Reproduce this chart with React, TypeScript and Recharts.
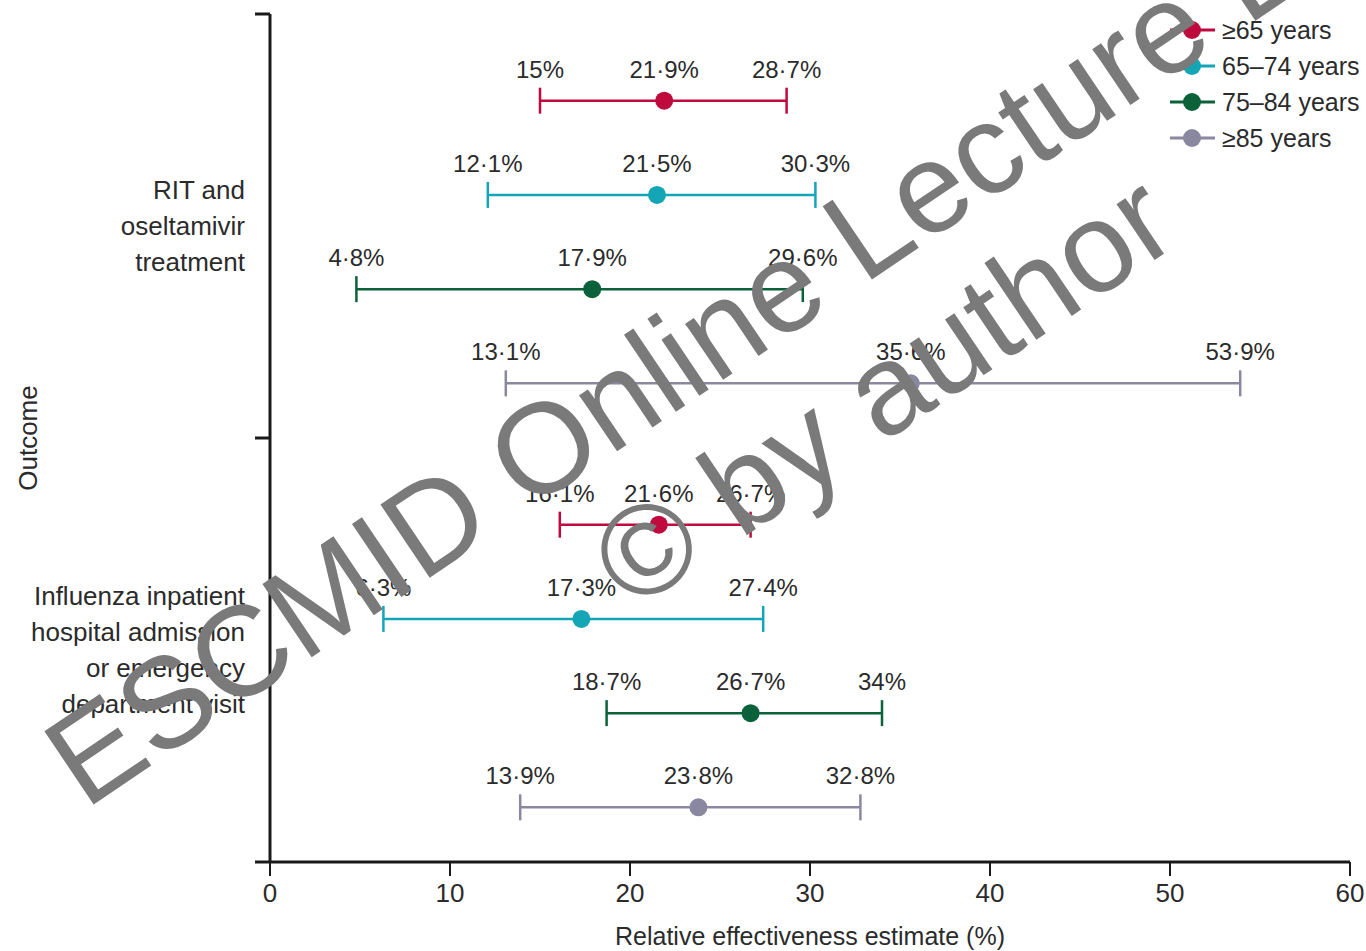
import React from "react";
import { ComposedChart, Scatter, XAxis, YAxis, ErrorBar } from "recharts";

const FONT = '"Liberation Sans", Arial, sans-serif';
const TEXT = "#2b2b2b";
const AXIS = "#1a1a1a";

const AGE_BANDS = ["≥65 years", "65–74 years", "75–84 years", "≥85 years"];
const COLORS = ["#bf0a3e", "#14a6b6", "#0b6139", "#8a88a0"];

// outcome labels, already broken into the lines used in the figure
const OUTCOME_LINES = [
  ["RIT and", "oseltamivir", "treatment"],
  ["Influenza inpatient", "hospital admission", "or emergency", "department visit"],
];

// one value per age band
const RIT_EST = [21.9, 21.5, 17.9, 35.6];
const RIT_LOW = [15, 12.1, 4.8, 13.1];
const RIT_HIGH = [28.7, 30.3, 29.6, 53.9];

const HOSP_EST = [21.6, 17.3, 26.7, 23.8];
const HOSP_LOW = [16.1, 6.3, 18.7, 13.9];
const HOSP_HIGH = [26.7, 27.4, 34, 32.8];

const X_TICKS = [0, 10, 20, 30, 40, 50, 60];

const EST = [RIT_EST, HOSP_EST];
const LOW = [RIT_LOW, HOSP_LOW];
const HIGH = [RIT_HIGH, HOSP_HIGH];

// each outcome gets a band of 4.5 units on the y axis
const BAND = 4.5;
const rowY = (g: number, b: number) => g * BAND + 0.92 + b;

const fmt = (v: number) => `${String(v).replace(".", "·")}%`;

const estimateSeries = AGE_BANDS.map((_, b) =>
  [0, 1].map((g) => ({
    x: EST[g][b],
    y: rowY(g, b),
    err: [EST[g][b] - LOW[g][b], HIGH[g][b] - EST[g][b]],
  }))
);

const boundSeries = AGE_BANDS.map((_, b) =>
  [0, 1].flatMap((g) => [
    { x: LOW[g][b], y: rowY(g, b) },
    { x: HIGH[g][b], y: rowY(g, b) },
  ])
);

const valueLabel = (cx: number, cy: number, v: number) => (
  <text
    x={cx}
    y={cy - 23}
    textAnchor="middle"
    fontSize={24}
    fill={TEXT}
    fontFamily={FONT}
  >
    {fmt(v)}
  </text>
);

const estimateShape = (color: string) => (p: any) =>
  (
    <g>
      <circle cx={p.cx} cy={p.cy} r={9} fill={color} />
      {valueLabel(p.cx, p.cy, p.payload.x)}
    </g>
  );

const boundShape = (p: any) => valueLabel(p.cx, p.cy, p.payload.x);

const OutcomeTick = (props: any) => {
  const { x, y, index } = props;
  if (index % 2 === 0) {
    return <line x1={x - 15} x2={x} y1={y} y2={y} stroke={AXIS} strokeWidth={3} />;
  }
  const lines = OUTCOME_LINES[(index - 1) / 2];
  const top = y - ((lines.length - 1) * 36) / 2;
  return (
    <text textAnchor="end" fontSize={26} fill={TEXT} fontFamily={FONT}>
      {lines.map((l, i) => (
        <tspan key={l} x={x - 25} y={top + i * 36} dy="0.35em">
          {l}
        </tspan>
      ))}
    </text>
  );
};

function AgeLegend() {
  return (
    <div
      style={{
        position: "absolute",
        top: 12,
        left: 1168,
        fontFamily: FONT,
        fontSize: 25,
        color: TEXT,
      }}
    >
      {AGE_BANDS.map((band, i) => (
        <div key={band} style={{ display: "flex", alignItems: "center", height: 36 }}>
          <svg width={50} height={24}>
            <line x1={2} x2={47} y1={12} y2={12} stroke={COLORS[i]} strokeWidth={3} />
            <circle cx={24} cy={12} r={9} fill={COLORS[i]} />
          </svg>
          <span style={{ marginLeft: 4 }}>{band}</span>
        </div>
      ))}
    </div>
  );
}

export default function App() {
  return (
    <div
      style={{
        position: "absolute",
        left: 0,
        top: 0,
        width: 1366,
        height: 951,
        background: "#fff",
        fontFamily: FONT,
      }}
    >
      <ComposedChart
        width={1366}
        height={951}
        margin={{ top: 14, right: 16, bottom: 0, left: 20 }}
      >
        <XAxis
          type="number"
          dataKey="x"
          domain={[0, 60]}
          ticks={X_TICKS}
          height={89}
          tickSize={14}
          tickMargin={8}
          tick={{ fill: TEXT, fontSize: 26, fontFamily: FONT }}
          tickLine={{ stroke: AXIS, strokeWidth: 2 }}
          axisLine={{ stroke: AXIS, strokeWidth: 3 }}
          label={({ viewBox }: any) => (
            <text
              x={viewBox.x + viewBox.width / 2}
              y={viewBox.y + 83}
              textAnchor="middle"
              fontSize={25}
              fill={TEXT}
              fontFamily={FONT}
            >
              Relative effectiveness estimate (%)
            </text>
          )}
        />
        <YAxis
          type="number"
          dataKey="y"
          domain={[0, 9]}
          reversed
          ticks={[0, BAND / 2, BAND, BAND * 1.5, BAND * 2]}
          width={250}
          tickSize={0}
          tickMargin={0}
          tickLine={false}
          tick={<OutcomeTick />}
          axisLine={{ stroke: AXIS, strokeWidth: 3 }}
          label={({ viewBox }: any) => {
            const cx = viewBox.x + 8;
            const cy = viewBox.y + viewBox.height / 2;
            return (
              <text
                x={cx}
                y={cy}
                textAnchor="middle"
                dominantBaseline="central"
                transform={`rotate(-90 ${cx} ${cy})`}
                fontSize={26}
                fill={TEXT}
                fontFamily={FONT}
              >
                Outcome
              </text>
            );
          }}
        />
        {AGE_BANDS.map((band, b) => (
          <Scatter
            key={band}
            name={band}
            data={estimateSeries[b]}
            fill={COLORS[b]}
            shape={estimateShape(COLORS[b])}
            isAnimationActive={false}
          >
            <ErrorBar
              dataKey="err"
              direction="x"
              width={13}
              stroke={COLORS[b]}
              strokeWidth={2.5}
              isAnimationActive={false}
            />
          </Scatter>
        ))}
        {AGE_BANDS.map((band, b) => (
          <Scatter
            key={`${band}-bounds`}
            data={boundSeries[b]}
            legendType="none"
            shape={boundShape}
            isAnimationActive={false}
          />
        ))}
      </ComposedChart>
      <AgeLegend />
      <svg
        width={1366}
        height={951}
        style={{ position: "absolute", left: 0, top: 0, pointerEvents: "none" }}
      >
        <g transform="rotate(-34 828 309)" fill="#7a7a7a" fontFamily={FONT} fontSize={128}>
          <text x={828} y={309} textAnchor="middle">
            ESCMID Online Lecture Library
          </text>
          <text x={828} y={451} textAnchor="middle">
            © by author
          </text>
        </g>
      </svg>
    </div>
  );
}
